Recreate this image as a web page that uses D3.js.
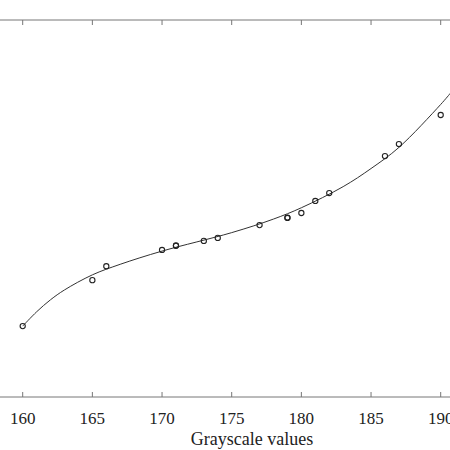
<!DOCTYPE html>
<html><head><meta charset="utf-8">
<script src="https://cdn.jsdelivr.net/npm/d3@7"></script>
<style>body{margin:0;background:#fff}</style>
</head><body><div id="chart"></div>
<script>
const pointX = [160, 165, 166, 170, 171, 171, 173, 174, 177, 179, 179, 180, 181, 182, 186, 187, 190];
const pointY = [18.8, 31.0, 34.7, 39.0, 40.1, 40.2, 41.4, 42.2, 45.6, 47.5, 47.6, 48.8, 52.0, 54.1, 63.9, 67.1, 74.8];
const curveX = [160, 161, 162, 163, 165, 167, 170, 175, 178, 180, 183, 185, 187, 190, 190.7];
const curveY = [18.8, 22.6, 25.8, 28.4, 32.4, 35.2, 38.7, 43.6, 47.2, 50.2, 55.8, 60.6, 66.2, 77.6, 80.6];
const xTicks = [160, 165, 170, 175, 180, 185, 190];

const W = 450, H = 450;
const svg = d3.select('#chart').append('svg').attr('width', W).attr('height', H);
const x = d3.scaleLinear().domain([160, 190]).range([22.7, 440.7]);
const y = d3.scaleLinear().domain([0, 100]).range([397, 20]);

// frame top and bottom
[397, 20].forEach((yy, i) => {
    svg.append('line').attr('x1', 0).attr('x2', W).attr('y1', yy).attr('y2', yy)
        .attr('stroke', '#777').attr('stroke-width', 1);
    svg.selectAll(null).data(xTicks).enter().append('line')
        .attr('x1', d => x(d)).attr('x2', d => x(d))
        .attr('y1', yy).attr('y2', i === 0 ? yy - 5 : yy + 5)
        .attr('stroke', '#777');
});

svg.selectAll('.tl').data(xTicks).enter().append('text')
    .attr('x', d => x(d)).attr('y', 424).attr('text-anchor', 'middle')
    .attr('font-family', 'Liberation Serif').attr('font-size', 17).attr('fill', '#222')
    .text(d => d);
svg.append('text').attr('x', 252).attr('y', 445).attr('text-anchor', 'middle')
    .attr('font-family', 'Liberation Serif').attr('font-size', 18).attr('fill', '#222')
    .text('Grayscale values');

const line = d3.line().x(d => x(d[0])).y(d => y(d[1])).curve(d3.curveCatmullRom);
svg.append('path').datum(d3.zip(curveX, curveY)).attr('d', line)
    .attr('fill', 'none').attr('stroke', '#333').attr('stroke-width', 1);

svg.selectAll('.pt').data(d3.zip(pointX, pointY)).enter().append('circle')
    .attr('cx', d => x(d[0])).attr('cy', d => y(d[1])).attr('r', 2.6)
    .attr('fill', 'none').attr('stroke', '#222').attr('stroke-width', 1.1);
</script></body></html>
